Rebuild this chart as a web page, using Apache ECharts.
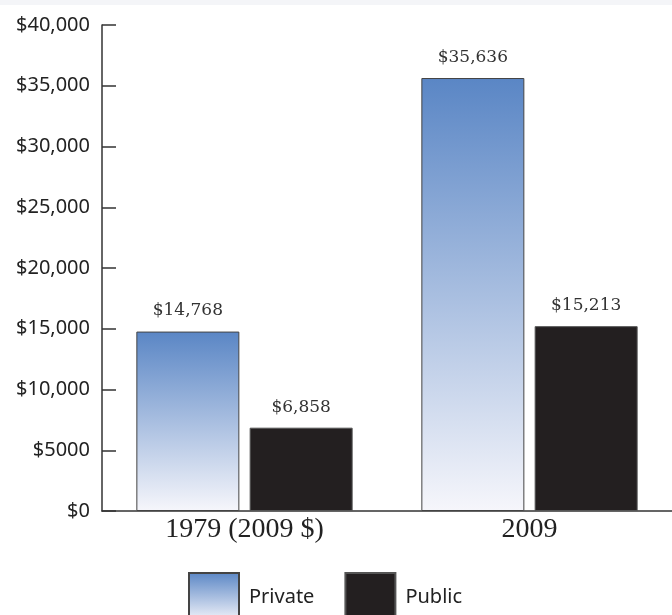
<!DOCTYPE html>
<html>
<head>
<meta charset="utf-8">
<script src="https://cdn.jsdelivr.net/npm/echarts@6/dist/echarts.min.js"></script>
<style>
  html, body { margin: 0; padding: 0; background: #ffffff; }
  #chart { width: 672px; height: 615px; }
</style>
</head>
<body>
<div id="chart"></div>
<script>
// Average cost by sector, two years
const categories = ['1979 (2009 $)', '2009'];
const privateCost = [14768, 35636];
const publicCost = [6858, 15213];
const yTickLabels = ['$0', '$5000', '$10,000', '$15,000', '$20,000', '$25,000', '$30,000', '$35,000', '$40,000'];

const chart = echarts.init(document.getElementById('chart'));

const privateFill = new echarts.graphic.LinearGradient(0, 0, 0, 1, [
  { offset: 0, color: '#5a86c5' },
  { offset: 1, color: '#f6f6fb' }
]);

const valueLabel = {
  show: true,
  position: 'top',
  distance: 12,
  fontFamily: 'DejaVu Serif',
  fontSize: 17,
  color: '#333333',
  formatter: p => '$' + p.value.toLocaleString('en-US')
};

chart.setOption({
  animation: false,
  backgroundColor: '#ffffff',
  graphic: [
    { type: 'rect', left: 0, top: 0, shape: { width: 672, height: 5 }, style: { fill: '#f4f5f8' }, silent: true }
  ],
  grid: { left: 102, right: 0, top: 25, bottom: 104, containLabel: false },
  legend: {
    top: 567,
    left: 183,
    itemWidth: 50,
    itemHeight: 48,
    itemGap: 30,
    icon: 'rect',
    textStyle: { fontFamily: 'Noto Sans', fontSize: 20, color: '#222222', padding: [0, 0, 0, 5] },
    data: ['Private', 'Public']
  },
  xAxis: {
    type: 'category',
    data: categories,
    axisLine: { lineStyle: { color: '#333333', width: 1.5 } },
    axisTick: { inside: true, length: 12, lineStyle: { color: '#333333', width: 1.5 } },
    axisLabel: { fontFamily: 'Liberation Serif', fontSize: 28, color: '#222222', margin: 5 }
  },
  yAxis: {
    type: 'value',
    min: 0,
    max: 40000,
    interval: 5000,
    splitLine: { show: false },
    axisLine: { show: true, lineStyle: { color: '#333333', width: 1.5 } },
    axisTick: { show: true, inside: true, length: 14, lineStyle: { color: '#333333', width: 1.5 } },
    axisLabel: {
      fontFamily: 'Noto Sans',
      fontSize: 20,
      color: '#222222',
      margin: 12,
      formatter: v => yTickLabels[Math.round(v / 5000)]
    }
  },
  series: [
    {
      name: 'Private',
      type: 'bar',
      data: privateCost,
      barWidth: 103,
      barGap: '10%',
      itemStyle: { color: privateFill, borderColor: '#444444', borderWidth: 1 },
      label: valueLabel
    },
    {
      name: 'Public',
      type: 'bar',
      data: publicCost,
      barWidth: 103,
      itemStyle: { color: '#231f20', borderColor: '#555555', borderWidth: 1 },
      label: valueLabel
    }
  ]
});
</script>
</body>
</html>
